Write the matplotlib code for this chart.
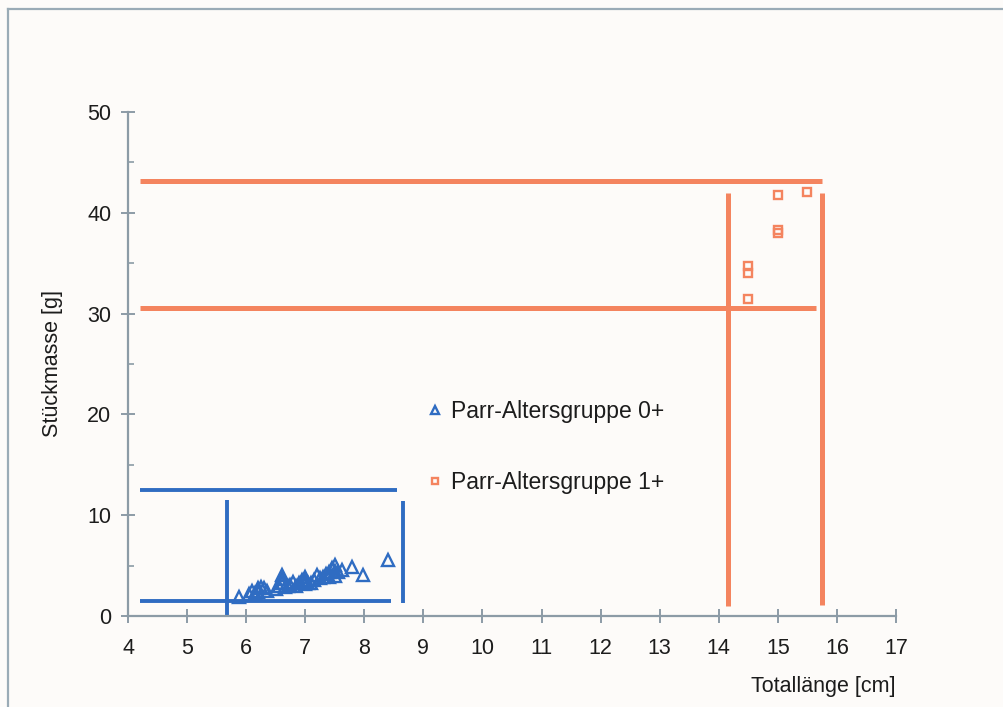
import matplotlib.pyplot as plt
from matplotlib.lines import Line2D

plt.rcParams['font.family'] = ['Liberation Sans', 'DejaVu Sans']

# Parr 0+ (Totallänge cm, Stückmasse g)
parr0_len = [5.88, 6.05, 6.1, 6.15, 6.2, 6.2, 6.25, 6.3, 6.35, 6.5, 6.55, 6.6, 6.6, 6.6,
             6.65, 6.7, 6.75, 6.8, 6.85, 6.9, 6.95, 7.0, 7.0, 7.0, 7.05, 7.1, 7.15, 7.2,
             7.25, 7.3, 7.35, 7.4, 7.4, 7.45, 7.5, 7.5, 7.5, 7.55, 7.62, 7.8, 7.98, 8.4]
parr0_mass = [1.9, 2.2, 2.5, 2.3, 2.8, 2.4, 2.9, 2.8, 2.5, 2.7, 3.0, 4.1, 3.3, 3.7,
              2.9, 3.0, 3.1, 3.4, 3.0, 3.3, 3.6, 3.9, 3.2, 3.5, 3.3, 3.3, 3.6, 4.1,
              3.8, 3.9, 4.2, 4.4, 3.9, 4.8, 5.1, 4.5, 4.0, 4.4, 4.6, 4.9, 4.1, 5.6]

# Parr 1+
parr1_len = [14.5, 14.5, 14.5, 15.0, 15.0, 15.0, 15.5]
parr1_mass = [31.4, 34.0, 34.7, 38.0, 38.3, 41.8, 42.1]

# range bars: (level, start, end)
blue_h = [(12.5, 4.2, 8.55), (1.5, 4.2, 8.45)]
blue_v = [(5.68, 0.1, 11.5), (8.65, 1.3, 11.4)]
orange_h = [(43.2, 4.2, 15.75), (30.6, 4.2, 15.65)]
orange_v = [(14.16, 1.0, 42.0), (15.75, 1.1, 42.0)]

blue = '#2f6cc2'
orange = '#f4845f'
axis_col = '#8c9ba6'
txt = '#1c1c1c'
bg = '#fdfbf9'

fig = plt.figure(figsize=(10.04, 7.07), dpi=100, facecolor=bg)
ax = fig.add_axes([0.1275, 0.1287, 0.7649, 0.7129], facecolor=bg)

for y, x0, x1 in blue_h:
    ax.hlines(y, x0, x1, color=blue, lw=2.8)
for x, y0, y1 in blue_v:
    ax.vlines(x, y0, y1, color=blue, lw=2.8)
for y, x0, x1 in orange_h:
    ax.hlines(y, x0, x1, color=orange, lw=3.6)
for x, y0, y1 in orange_v:
    ax.vlines(x, y0, y1, color=orange, lw=3.6)

ax.plot(parr0_len, parr0_mass, ls='none', marker='^', ms=9, mfc='none',
        mec=blue, mew=1.7, label='Parr-Altersgruppe 0+')
ax.plot(parr1_len, parr1_mass, ls='none', marker='s', ms=6, mfc='none',
        mec=orange, mew=1.7, label='Parr-Altersgruppe 1+')

ax.set_xlim(4, 17)
ax.set_ylim(0, 50)
ax.set_xticks(range(4, 18))
ax.set_yticks(range(0, 51, 10))
ax.set_yticks(range(5, 50, 10), minor=True)

for side in ['top', 'right']:
    ax.spines[side].set_visible(False)
for side in ['left', 'bottom']:
    ax.spines[side].set_color(axis_col)
    ax.spines[side].set_linewidth(1.6)

ax.tick_params(which='major', direction='inout', length=10, width=1.4,
               color=axis_col, labelsize=15.5, labelcolor=txt)
ax.tick_params(axis='x', which='major', pad=11)
ax.tick_params(axis='y', which='major', pad=7)
ax.tick_params(which='minor', direction='in', length=4, width=1.2, color=axis_col)

ax.set_ylabel('Stückmasse [g]', fontsize=15.5, color=txt)
ax.yaxis.set_label_coords(-0.085, 0.5)
ax.set_xlabel('Totallänge [cm]', fontsize=15.5, color=txt, loc='right')
ax.xaxis.set_label_coords(1.0, -0.12)

leg = ax.legend(loc='upper left', bbox_to_anchor=(0.365, 0.47), frameon=False,
                fontsize=16.5, labelspacing=2.1, handlelength=0.5,
                handletextpad=0.45, markerscale=0.7)
for t in leg.get_texts():
    t.set_color(txt)

# outer frame (top and left edges)
fig.add_artist(Line2D([8 / 1004, 1], [1 - 9 / 707, 1 - 9 / 707],
                      transform=fig.transFigure, color='#9aabb6', lw=1.6))
fig.add_artist(Line2D([8 / 1004, 8 / 1004], [0, 1 - 9 / 707],
                      transform=fig.transFigure, color='#9aabb6', lw=1.6))

fig.savefig('out.png', dpi=100, facecolor=bg)
